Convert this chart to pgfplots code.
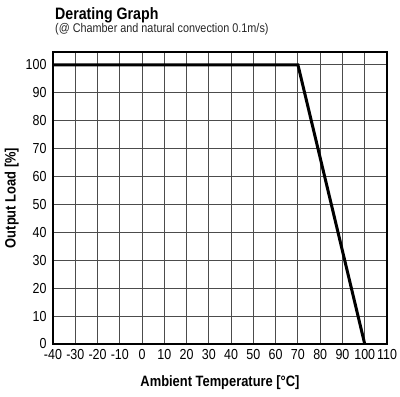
\documentclass[border=0pt]{standalone}
\usepackage{fontspec}
\setmainfont{Liberation Sans}[FakeStretch=0.86]
\usepackage{pgfplots}
\pgfplotsset{compat=1.18}
\begin{document}
\begin{tikzpicture}
\path[use as bounding box] (0pt,0pt) rectangle (400pt,-397pt);
\node[anchor=base west,font=\bfseries\fontsize{16.5}{18}\selectfont,inner sep=0pt] at (55pt,-19pt) {Derating Graph};
\node[anchor=base west,font=\fontsize{12.6}{14}\selectfont,text=black!85,inner sep=0pt] at (55pt,-32pt) {(@ Chamber and natural convection 0.1m/s)};
\begin{axis}[
  at={(53pt,-344pt)}, anchor=south west,
  scale only axis, width=334pt, height=292pt,
  xmin=-40, xmax=110, ymin=0, ymax=104.6,
  xtick={-40,-30,...,110}, ytick={0,10,...,100},
  major tick length=0pt,
  grid=major,
  major grid style={black!70, line width=0.9pt},
  axis line style={black, line width=1.8pt},
  /pgf/number format/assume math mode=true,
  ticklabel style={font=\fontsize{14.5}{16}\selectfont},
  xticklabel style={yshift=-2pt},
  yticklabel style={xshift=-3pt},
  xlabel={\bfseries Ambient Temperature [°C]},
  ylabel={\bfseries Output Load [\%]},
  label style={font=\bfseries\fontsize{15}{17}\selectfont},
  xlabel style={yshift=-9pt},
  ylabel style={yshift=0pt},
  clip=false,
]
\addplot[black, line width=3pt, line join=miter] coordinates {(-40,100) (70,100) (100,0)};
\end{axis}
\end{tikzpicture}
\end{document}
